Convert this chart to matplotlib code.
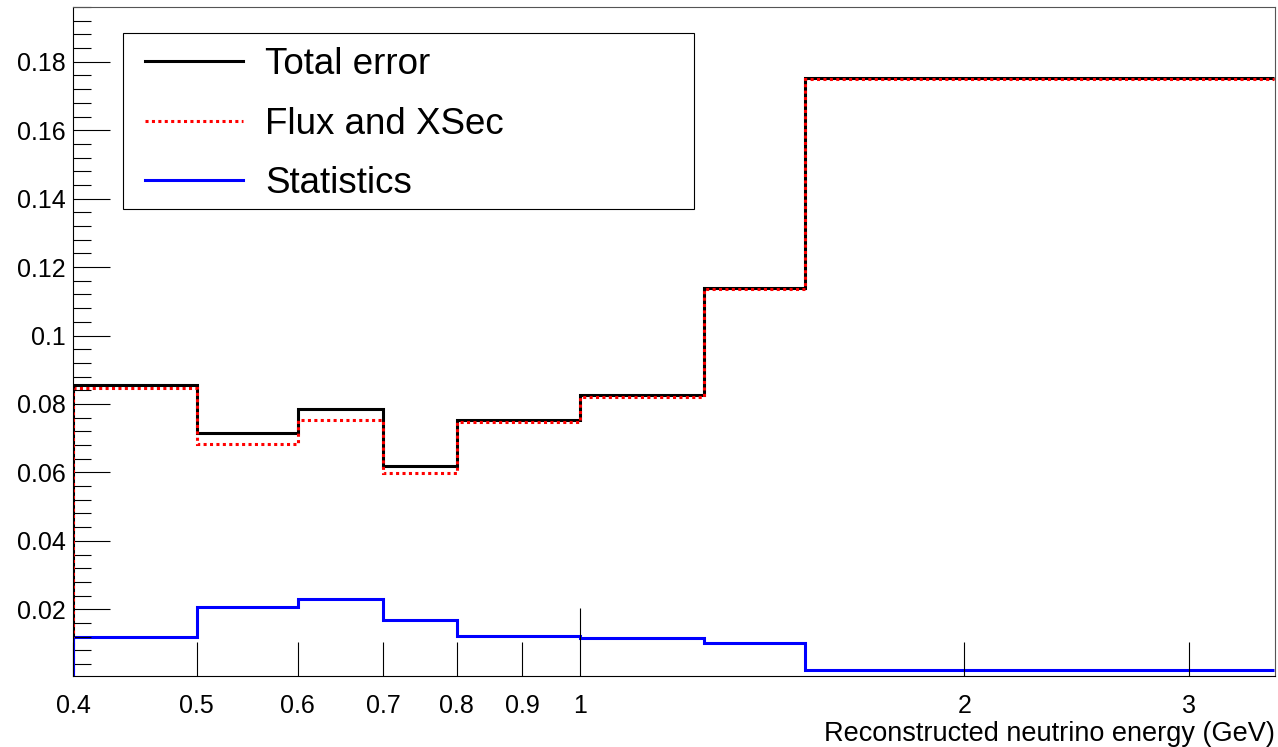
import numpy as np
import matplotlib
matplotlib.use("Agg")
import matplotlib.pyplot as plt
from matplotlib.lines import Line2D
from matplotlib.patches import Rectangle

plt.rcParams["font.family"] = ["Liberation Sans", "DejaVu Sans"]

# bin edges in reconstructed neutrino energy (GeV)
bin_edges = [0.4, 0.5, 0.6, 0.7, 0.8, 1.0, 1.25, 1.5, 3.5]

# fractional errors per bin
total_error = [0.0855, 0.0716, 0.0785, 0.0620, 0.0754, 0.0827, 0.1140, 0.1752]
flux_xsec = [0.0847, 0.0684, 0.0754, 0.0597, 0.0746, 0.0821, 0.1136, 0.1751]
statistics = [0.0118, 0.0207, 0.0231, 0.0169, 0.0121, 0.0115, 0.0101, 0.0023]

x_ticks = [0.4, 0.5, 0.6, 0.7, 0.8, 0.9, 1, 2, 3]
x_tick_labels = ["0.4", "0.5", "0.6", "0.7", "0.8", "0.9", "1", "2", "3"]
y_ticks = [0.02, 0.04, 0.06, 0.08, 0.10, 0.12, 0.14, 0.16, 0.18]
y_tick_labels = ["0.02", "0.04", "0.06", "0.08", "0.1", "0.12", "0.14", "0.16", "0.18"]

fig = plt.figure(figsize=(12.78, 7.47), dpi=100)
ax = fig.add_axes([73 / 1278, 71 / 747, 1202 / 1278, 669 / 747])

lw = 2.2
dotted = (0, (1, 1.1))
series = [(total_error, "black", "-", "Total error"),
          (flux_xsec, "#ff0000", dotted, "Flux and XSec"),
          (statistics, "#0000ff", "-", "Statistics")]

handles = []
for vals, col, ls, lab in series:
    # ROOT-like histogram outline: left edge drops to zero, right edge open
    ax.stairs(vals, bin_edges, baseline=None, color=col, lw=lw, linestyle=ls)
    ax.vlines(bin_edges[0], 0, vals[0], color=col, lw=lw, linestyle=ls)
    handles.append(Line2D([], [], color=col, lw=lw, linestyle=ls, label=lab))

ax.set_xscale("log")
ax.set_xlim(0.4, 3.505)
ax.set_ylim(0.0005, 0.196)

ax.set_xticks(x_ticks)
ax.set_xticklabels(x_tick_labels)
ax.xaxis.set_minor_locator(matplotlib.ticker.NullLocator())
ax.tick_params(axis="x", which="major", direction="in", length=24.5, width=0.8,
               labelsize=18, pad=13, top=False)
for t, v in zip(ax.xaxis.get_major_ticks(), x_ticks):
    if v == 1:
        t.tick1line.set_markersize(49)

ax.set_yticks(y_ticks)
ax.set_yticklabels(y_tick_labels)
ax.yaxis.set_minor_locator(matplotlib.ticker.MultipleLocator(0.004))
ax.tick_params(axis="y", which="major", direction="in", length=26.5, width=0.8,
               labelsize=18, pad=5, right=False)
ax.tick_params(axis="y", which="minor", direction="in", length=13, width=0.8,
               right=False)

for side in ["top", "right"]:
    ax.spines[side].set_color("#555555")
    ax.spines[side].set_linewidth(0.8)
for side in ["left", "bottom"]:
    ax.spines[side].set_color("black")
    ax.spines[side].set_linewidth(0.8)

ax.set_xlabel("Reconstructed neutrino energy (GeV)", loc="right", fontsize=19.5)
ax.xaxis.set_label_coords(1.0, -0.068)

# legend box
bx0 = (123 - 73) / 1202
bx1 = (694 - 73) / 1202
by0 = (676 - 209) / 669
by1 = (676 - 33) / 669
ax.add_patch(Rectangle((bx0, by0), bx1 - bx0, by1 - by0, transform=ax.transAxes,
                       facecolor="white", edgecolor="black", lw=0.8, zorder=4))
leg = ax.legend(handles=handles, loc="upper left",
                bbox_to_anchor=((145 - 73) / 1202, (676 - 47) / 669),
                borderaxespad=0, borderpad=0, frameon=False, fontsize=26.5,
                handlelength=2.66, handletextpad=0.6, labelspacing=0.67)
leg.set_zorder(5)

fig.savefig("out.png", dpi=100)
